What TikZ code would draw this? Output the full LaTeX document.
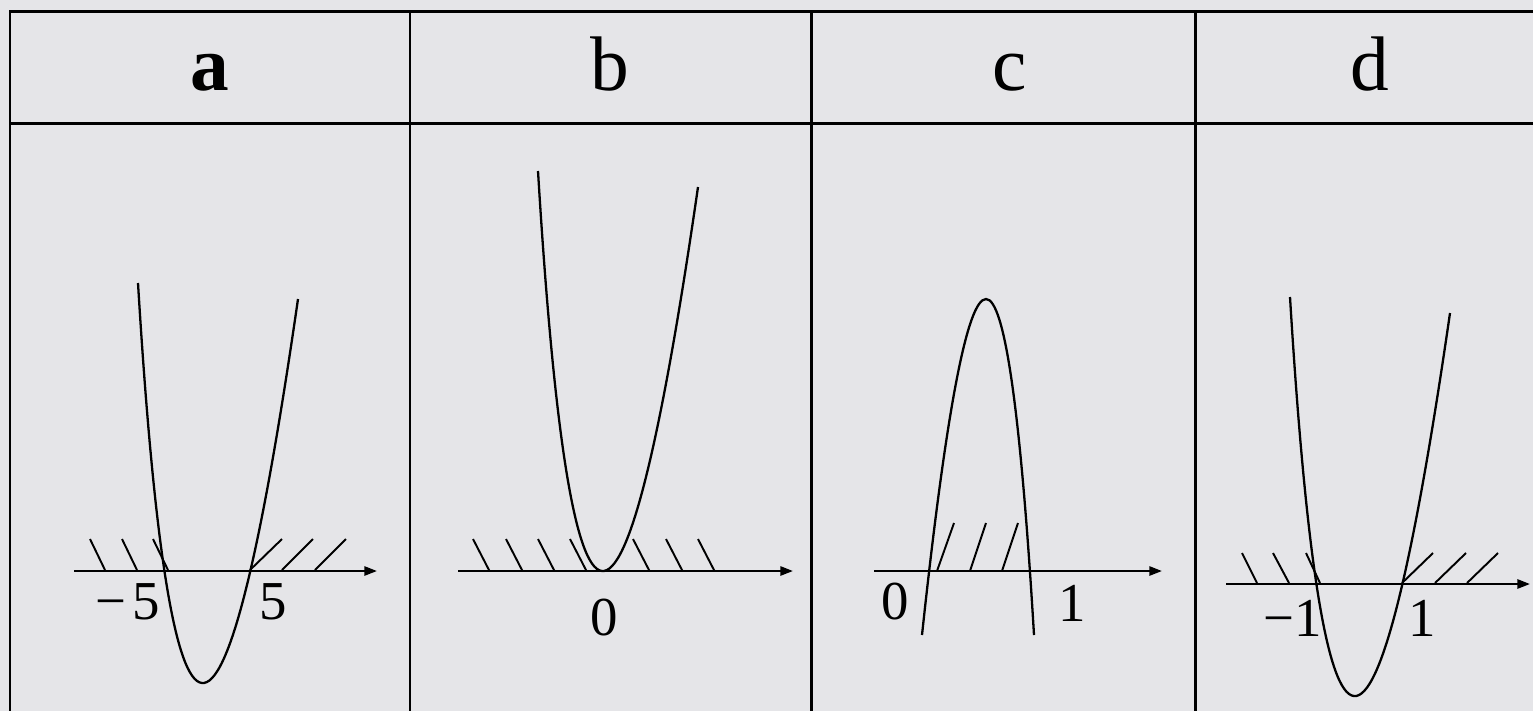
\documentclass[tikz,border=0pt]{standalone}
\usepackage{fontspec}
\setmainfont{Liberation Serif}
\usetikzlibrary{arrows.meta}
\definecolor{marble}{RGB}{229,229,232}
\tikzset{
  grid/.style={line width=0.85pt, black},
  curve/.style={line width=0.65pt, black},
  axis/.style={line width=0.65pt, black, -{Triangle[length=3.6pt,width=2.6pt]}},
  hatch/.style={line width=0.55pt, black},
  head/.style={font=\fontsize{22pt}{22pt}\selectfont, anchor=base, inner sep=0pt},
  lab/.style={font=\fontsize{15.6pt}{16pt}\selectfont, anchor=base, inner sep=0pt}
}
\begin{document}
\begin{tikzpicture}[x=0.01cm, y=-0.01cm]
\useasboundingbox (0,0) rectangle (1533,711);
\fill[marble] (0,0) rectangle (1533,711);
% table
\draw[grid] (1533,11) -- (10,11) -- (10,711);
\draw[grid] (10,123) -- (1533,123);
\draw[grid] (410,11) -- (410,711);
\draw[grid] (811,11) -- (811,711);
\draw[grid] (1195,11) -- (1195,711);
% headers
\node[head] (ha) at (210,90) {\textbf{a}};
\node[head] (hb) at (610,90) {b};
\node[head] (hc) at (1010,90) {c};
\node[head] (hd) at (1370,90) {d};
% panel a
\coordinate (a0) at (74,571); \coordinate (a1) at (377,571);
\draw[axis] (a0) -- (a1);
\draw[hatch] (90,539) -- (105,570) (122,539) -- (137,570) (153,539) -- (168,570);
\draw[hatch] (250,570) -- (282,539) (282,570) -- (313,539) (315,570) -- (346,539);
\draw[curve] (138,283) .. controls (170,811) and (223.3,816.3) .. (298,299);
\node[lab] (am) at (128,619) {−\hspace{0.12em}5};
\node[lab] (ap) at (273,619) {5};
% panel b
\coordinate (b0) at (458,571); \coordinate (b1) at (793,571);
\draw[axis] (b0) -- (b1);
\foreach \t in {473,506,538,570,633,666,698}
  \draw[hatch] (\t,539) -- ({\t+16.5},571);
\draw[curve] (538,171) .. controls (570,699) and (623.3,704.3) .. (698,187);
\node[lab] (bz) at (604,635) {0};
% panel c
\coordinate (c0) at (874,571); \coordinate (c1) at (1162,571);
\draw[axis] (c0) -- (c1);
\draw[hatch] (937,571) -- (954,523) (970,571) -- (986,523) (1002,571) -- (1018,523);
\draw[curve] (922,635) .. controls (970,187) and (1007.3,187) .. (1034,635);
\node[lab] (cz) at (895,619) {0};
\node[lab] (co) at (1072,621) {1};
% panel d
\coordinate (d0) at (1226,584); \coordinate (d1) at (1530,584);
\draw[axis] (d0) -- (d1);
\draw[hatch] (1242,553) -- (1257,583) (1273,553) -- (1289,583) (1306,553) -- (1320,583);
\draw[hatch] (1402,583) -- (1433,553) (1435,583) -- (1466,553) (1467,583) -- (1498,553);
\draw[curve] (1290,297) .. controls (1322,823.7) and (1375.3,829) .. (1450,313);
\node[lab] (dm) at (1293,636) {−1};
\node[lab] (dp) at (1422,636) {1};
\end{tikzpicture}
\end{document}
